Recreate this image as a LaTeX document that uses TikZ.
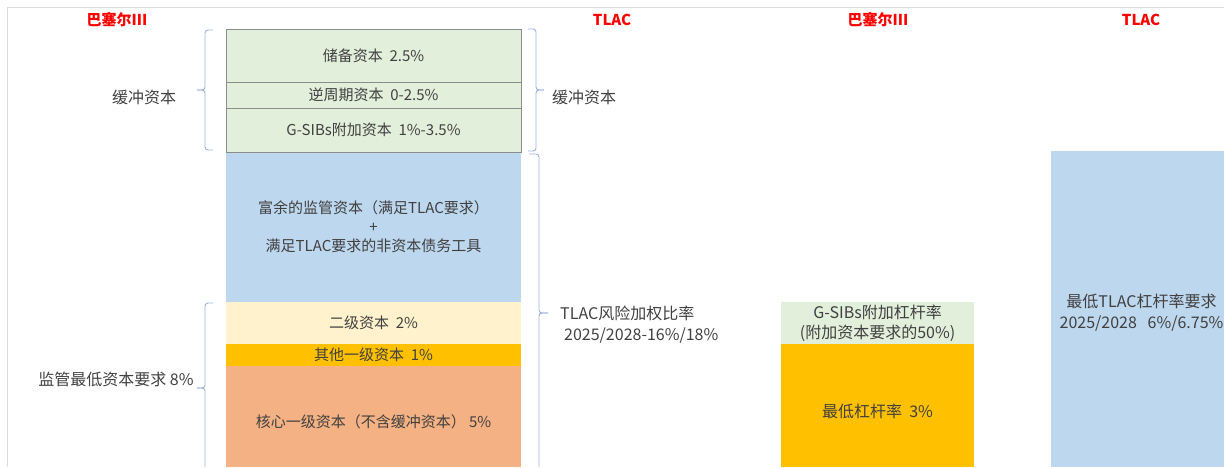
\documentclass[tikz,border=0pt]{standalone}
\usepackage{fontspec}
\setmainfont{Noto Sans CJK SC}
\definecolor{gfill}{HTML}{E2EFDA}
\definecolor{gline}{HTML}{8C8C8C}
\definecolor{bfill}{HTML}{BDD7EE}
\definecolor{yfill}{HTML}{FFF2CC}
\definecolor{goldc}{HTML}{FFC000}
\definecolor{orangec}{HTML}{F4B183}
\definecolor{txt}{HTML}{404040}
\definecolor{bracec}{HTML}{9BB1DD}
\definecolor{hdr}{HTML}{FF0000}
\definecolor{framec}{HTML}{DCDCDC}
\begin{document}
\begin{tikzpicture}[x=1pt,y=-1pt,
  box/.style={rectangle, inner sep=0pt, outer sep=0pt, text=txt, align=center,
              font=\fontsize{15}{19}\selectfont},
  gbox/.style={box, fill=gfill, draw=gline, line width=0.8pt},
  lbl/.style={inner sep=0pt, text=txt, font=\fontsize{16}{21}\selectfont},
  hd/.style={inner sep=0pt, text=hdr, font=\fontsize{15}{18}\selectfont\bfseries},
  brace/.style={draw=bracec, line width=0.9pt, rounded corners=3pt}]
\useasboundingbox (0,0) rectangle (1224,467);
% frame
\draw[framec, line width=0.8pt] (7,467) -- (7,7) -- (1224,7);
% headers
\node[hd] (h1) at (117,20) {巴塞尔III};
\node[hd] (h2) at (612,20) {TLAC};
\node[hd] (h3) at (878,20) {巴塞尔III};
\node[hd] (h4) at (1141,20) {TLAC};
% main stack
\node[box, fill=bfill, minimum width=295, minimum height=150] (surplus) at (373.5,227)
  {富余的监管资本（满足TLAC要求）\\+\\满足TLAC要求的非资本债务工具};
\node[box, fill=yfill, minimum width=295, minimum height=42] (t2) at (373.5,323) {二级资本\ \ 2\%};
\node[box, fill=goldc, minimum width=295, minimum height=22] (at1) at (373.5,355) {其他一级资本\ \ 1\%};
\node[box, fill=orangec, minimum width=295, minimum height=101] (cet1) at (373.5,416.5) {};
\node[box] (cet1t) at (373.5,422) {核心一级资本（不含缓冲资本）\ 5\%};
\node[gbox, minimum width=295, minimum height=53] (res) at (373.5,55.5) {储备资本\ \ 2.5\%};
\node[gbox, minimum width=295, minimum height=26] (ccb) at (373.5,95) {逆周期资本\ \ 0-2.5\%};
\node[gbox, minimum width=295, minimum height=44] (gsib) at (373.5,130) {G-SIBs附加资本\ \ 1\%-3.5\%};
% left braces
\coordinate (lb1) at (197,90);
\coordinate (lb2) at (197,388);
\draw[brace] (213,30) -- (205,30) -- (205,90) -- (lb1);
\draw[brace] (lb1) -- (205,90) -- (205,150) -- (213,150);
\draw[brace] (213,303) -- (205,303) -- (205,388) -- (lb2);
\draw[brace] (lb2) -- (205,388) -- (205,467);
\node[lbl] (buf1) at (144,97) {缓冲资本};
\node[lbl] (minreq) at (116,379) {监管最低资本要求\ 8\%};
% right braces
\coordinate (rb1) at (544,90);
\coordinate (rb2) at (548,313);
\draw[brace] (528,29) -- (536,29) -- (536,90) -- (rb1);
\draw[brace] (rb1) -- (536,90) -- (536,151) -- (528,151);
\draw[brace] (529,154) -- (539,154) -- (539,313) -- (rb2);
\draw[brace] (rb2) -- (539,313) -- (539,467);
\node[lbl, anchor=west] (buf2) at (552,97) {缓冲资本};
\node[lbl, anchor=west, align=left] (tlacrw) at (560,325)
  {TLAC风险加权比率\\\hspace*{4pt}2025/2028-16\%/18\%};
% leverage column
\node[box, fill=gfill, minimum width=193, minimum height=42, font=\fontsize{16}{20}\selectfont] (glev) at (877.5,323)
  {G-SIBs附加杠杆率\\(附加资本要求的50\%)};
\node[box, fill=goldc, minimum width=193, minimum height=123] (minlev) at (877.5,405.5) {};
\node[box, font=\fontsize{16}{20}\selectfont] (minlevt) at (877.5,411) {最低杠杆率\ \ 3\%};
% TLAC leverage
\node[box, fill=bfill, minimum width=173, minimum height=316] (tlaclev) at (1137.5,309) {};
\node[box, font=\fontsize{16}{21}\selectfont] (tlaclevt) at (1141.5,313)
  {最低TLAC杠杆率要求\\2025/2028\ \ \ 6\%/6.75\%};
\end{tikzpicture}
\end{document}
